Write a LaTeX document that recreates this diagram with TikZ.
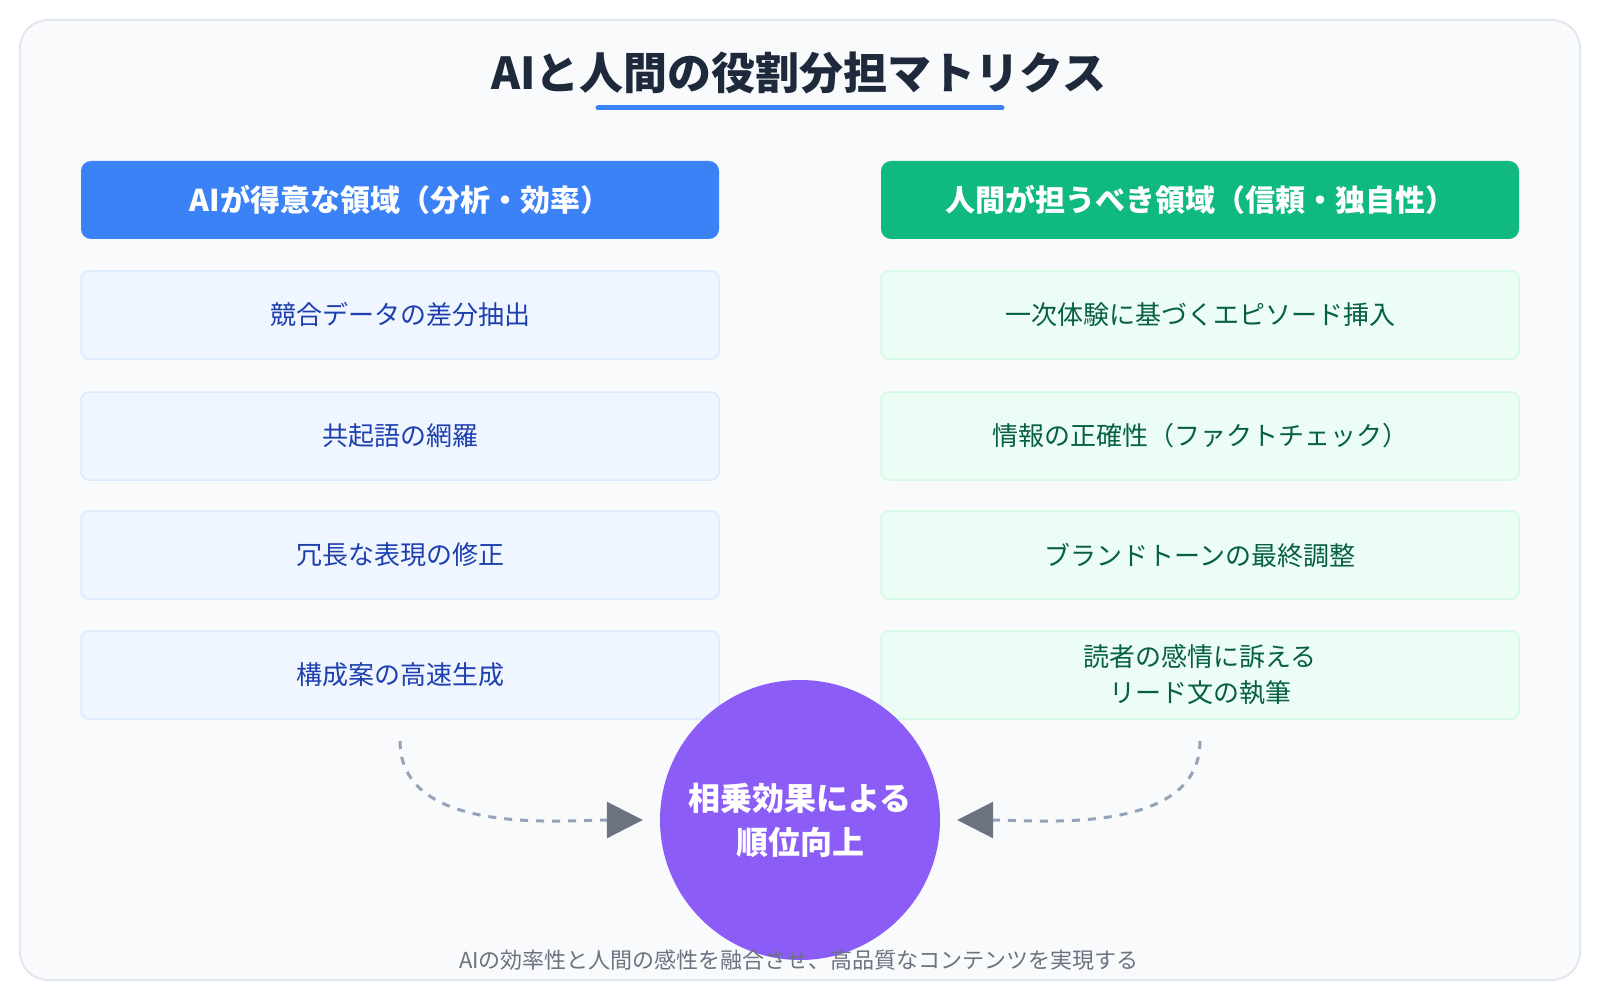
\documentclass[tikz,border=0pt]{standalone}
\usepackage{fontspec}
\setmainfont{Noto Sans CJK JP}
\usetikzlibrary{arrows.meta}
\definecolor{frameB}{HTML}{E2E8F0}
\definecolor{frameF}{HTML}{F8FAFC}
\definecolor{aiB}{HTML}{3B82F6}
\definecolor{aiF}{HTML}{EFF6FF}
\definecolor{aiL}{HTML}{DBEAFE}
\definecolor{aiT}{HTML}{1E40AF}
\definecolor{huB}{HTML}{10B981}
\definecolor{huF}{HTML}{ECFDF5}
\definecolor{huL}{HTML}{D1FAE5}
\definecolor{huT}{HTML}{065F46}
\definecolor{synF}{HTML}{8B5CF6}
\definecolor{arrG}{HTML}{94A3B8}
\definecolor{tipG}{HTML}{6B7280}
\definecolor{titleT}{HTML}{1E293B}
\tikzset{
  head/.style={rounded corners=10pt, minimum width=638pt, minimum height=78pt, text=white, font=\fontsize{30}{36}\selectfont\bfseries},
  aiitem/.style={draw=aiL, line width=1.5pt, fill=aiF, rounded corners=8pt, minimum width=638pt, minimum height=88pt, text=aiT, align=center, font=\fontsize{26}{36}\selectfont},
  huitem/.style={aiitem, draw=huL, fill=huF, text=huT},
  flow/.style={draw=arrG, line width=3pt, dash pattern=on 8pt off 8pt, -{Triangle[length=36pt,width=36pt,fill=tipG,color=tipG]}}
}
\begin{document}
\begin{tikzpicture}[x=1pt,y=-1pt]
  \useasboundingbox (0,0) rectangle (1600,1000);
  \draw[frameB, fill=frameF, line width=2pt, rounded corners=28pt] (20,20) rectangle (1580,980);
  \node[text=titleT, font=\fontsize{44}{50}\selectfont\bfseries] (title) at (799,73) {AIと人間の役割分担マトリクス};
  \draw[aiB, line width=5pt, line cap=round] (598,108) -- (1002,108);

  \node[head, fill=aiB] (aihead) at (400,200) {AIが得意な領域（分析・効率）};
  \node[head, fill=huB] (huhead) at (1200,200) {人間が担うべき領域（信頼・独自性）};

  \node[aiitem] (ai1) at (400,315) {競合データの差分抽出};
  \node[aiitem] (ai2) at (400,436) {共起語の網羅};
  \node[aiitem] (ai3) at (400,555) {冗長な表現の修正};
  \node[aiitem] (ai4) at (400,675) {構成案の高速生成};

  \node[huitem] (hu1) at (1200,315) {一次体験に基づくエピソード挿入};
  \node[huitem] (hu2) at (1200,436) {情報の正確性（ファクトチェック）};
  \node[huitem] (hu3) at (1200,555) {ブランドトーンの最終調整};
  \node[huitem] (hu4) at (1200,675) {読者の感情に訴える\\リード文の執筆};

  \node[circle, fill=synF, minimum size=280pt, text=white, align=center, font=\fontsize{32}{44}\selectfont\bfseries] (syn) at (800,820) {相乗効果による\\順位向上};

  \coordinate (aifrom) at (400,741);
  \coordinate (hufrom) at (1200,741);
  \draw[flow, shorten >=17pt] (aifrom) to[out=-90, in=180, looseness=0.9] (syn.west);
  \draw[flow, shorten >=17pt] (hufrom) to[out=-90, in=0, looseness=0.9] (syn.east);

  \node[text=tipG, font=\fontsize{22}{26}\selectfont] (foot) at (799,960) {AIの効率性と人間の感性を融合させ、高品質なコンテンツを実現する};
\end{tikzpicture}
\end{document}
